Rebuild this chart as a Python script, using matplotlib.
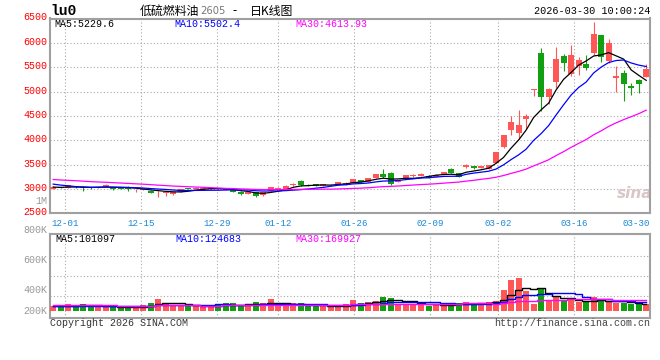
import numpy as np
import pandas as pd
import matplotlib
matplotlib.use('Agg')
import matplotlib.pyplot as plt
import matplotlib.transforms as mtrans

# daily bars of lu0, 80 sessions (11-27 .. 03-30)
opens = [3000, 3045, 3025, 3055, 3025, 3020, 3015, 3035, 3020, 3010,
         3012, 2975, 2985, 2965, 2915, 2920, 2890, 2940, 3015, 2995,
         3000, 3000, 3020, 3005, 2970, 2945, 2900, 2935, 2870, 2960,
         3005, 2995, 3075, 3170, 3090, 3095, 3070, 3078, 3095, 3090,
         3130, 3180, 3140, 3225, 3310, 3330, 3140, 3220, 3262, 3275,
         3275, 3250, 3305, 3400, 3330, 3445, 3475, 3435, 3410, 3540,
         3855, 4210, 4155, 4445, 5040, 5795, 4895, 5195, 5725, 5370,
         5530, 5575, 5790, 6155, 5630, 5285, 5385, 5115, 5235, 5300]
highs = [3055, 3050, 3080, 3060, 3055, 3030, 3050, 3095, 3040, 3020,
         3055, 2995, 3010, 2975, 2950, 2945, 2940, 2995, 3020, 3035,
         3020, 3040, 3025, 3010, 2975, 2950, 2935, 2940, 2940, 3045,
         3045, 3075, 3120, 3185, 3100, 3110, 3100, 3110, 3150, 3135,
         3205, 3190, 3225, 3305, 3410, 3345, 3175, 3285, 3300, 3330,
         3280, 3300, 3350, 3435, 3335, 3515, 3480, 3480, 3500, 3760,
         4110, 4490, 4615, 4530, 5056, 5890, 5065, 5915, 5775, 5950,
         5700, 5745, 6425, 6160, 6080, 5525, 5435, 5170, 5255, 5560]
lows = [2990, 3010, 3015, 3020, 2950, 3000, 3010, 3030, 2975, 2990,
        2955, 2940, 2975, 2910, 2830, 2865, 2885, 2935, 2990, 2990,
        2995, 2975, 2995, 2970, 2940, 2885, 2895, 2840, 2865, 2955,
        3000, 2990, 3070, 3070, 3070, 3060, 3065, 3070, 3090, 3085,
        3125, 3135, 3135, 3220, 3235, 3085, 3135, 3215, 3255, 3270,
        3225, 3245, 3300, 3320, 3245, 3440, 3415, 3430, 3405, 3535,
        3835, 4105, 4025, 4228, 4905, 4610, 4750, 5070, 5420, 5320,
        5340, 5440, 5750, 5605, 5590, 5000, 4810, 4925, 4975, 5295]
closes = [3045, 3020, 3075, 3030, 3018, 3012, 3045, 3090, 3008, 3000,
          3000, 2985, 3000, 2920, 2920, 2928, 2935, 2990, 2995, 3025,
          3015, 3008, 3000, 2975, 2945, 2895, 2930, 2845, 2935, 3040,
          3020, 3070, 3105, 3075, 3075, 3065, 3092, 3085, 3145, 3130,
          3200, 3140, 3220, 3300, 3245, 3100, 3168, 3280, 3295, 3310,
          3232, 3295, 3345, 3330, 3250, 3492, 3420, 3475, 3490, 3755,
          4100, 4370, 4310, 4500, 5050, 4895, 5055, 5665, 5590, 5755,
          5645, 5485, 6175, 5700, 5990, 5315, 5150, 5065, 5150, 5470]
volumes = [62000, 62000, 97000, 62000, 97000, 62000, 62000, 62000, 62000, 39000,
           48000, 62000, 83000, 112000, 170000, 106000, 87000, 77000, 73000, 62000,
           62000, 62000, 97000, 112000, 112000, 62000, 97000, 126000, 112000, 170000,
           62000, 62000, 112000, 112000, 62000, 62000, 62000, 62000, 62000, 97000,
           155000, 112000, 126000, 141000, 199000, 184000, 97000, 97000, 97000, 97000,
           73000, 97000, 73000, 97000, 112000, 126000, 112000, 112000, 126000, 141000,
           300000, 445000, 475000, 290000, 97000, 310000, 138000, 203000, 138000, 152000,
           123000, 123000, 195000, 165000, 123000, 115000, 115000, 92000, 92000, 92000]

# the 29 sessions before the window, backed out of where the MA lines start
prior_closes = [3290, 3310, 3280, 3265, 3300, 3270, 3250, 3260, 3235, 3245,
                3220, 3230, 3210, 3225, 3200, 3215, 3190, 3205, 3215, 3195,
                3225, 3215, 3198, 3095, 3067, 3050, 3040, 3030, 3028]
prior_volumes = [85000, 80000, 90000, 75000, 88000, 82000, 79000, 86000, 92000, 78000,
                 84000, 81000, 87000, 76000, 83000, 90000, 80000, 85000, 78000, 82000,
                 80000, 76000, 84000, 79000, 77000, 62000, 60000, 66000, 58000]

tick_labels = ['12-01', '12-15', '12-29', '01-12', '01-26', '02-09', '03-02', '03-16', '03-30']
tick_idx = [2, 12, 22, 30, 40, 50, 59, 69, 79]

price_ma_text = ['MA5:5229.6', 'MA10:5502.4', 'MA30:4613.93']
vol_ma_text = ['MA5:101097', 'MA10:124683', 'MA30:169927']
vol_labels = ['800K', '600K', '400K', '200K']

RED = '#ff5656'
GREEN = '#12a012'
MA_COLORS = ['black', '#0000ff', '#ff00ff']
GRID = '#aaaaaa'
MONO = 'Liberation Mono'
CJK = ['Noto Sans CJK SC', 'DejaVu Sans']


def ma(vals, prior, n):
    s = pd.Series(list(prior) + list(vals), dtype=float)
    return s.rolling(n).mean().values[len(prior):]


W, H = 660.0, 360.0


def box(x0, y0, x1, y1):
    return [x0 / W, 1 - y1 / H, (x1 - x0) / W, (y1 - y0) / H]


def fx(px):
    return px / W


def fy(py):
    return 1 - py / H


fig = plt.figure(figsize=(6.6, 3.6), dpi=100)
ax = fig.add_axes(box(50, 18.5, 650, 213.3))
axv = fig.add_axes(box(50, 234, 650, 318), sharex=ax)

n = len(closes)
x = np.arange(n)
up = np.array(closes) >= np.array(opens)
cols = [RED if u else GREEN for u in up]

# candles
ax.vlines(x, lows, highs, colors=cols, lw=0.8, zorder=3)
body_lo = np.minimum(opens, closes)
body_h = np.maximum(np.abs(np.array(closes) - np.array(opens)), 12)
ax.bar(x, body_h, bottom=body_lo, width=0.8, color=cols, lw=0, zorder=4)

for w, c in zip([5, 10, 30], MA_COLORS):
    ax.plot(x, ma(closes, prior_closes, w), color=c, lw=0.9, zorder=5)

# volume
axv.bar(x, volumes, width=0.8, color=cols, lw=0, zorder=3)
for w, c in zip([5, 10, 30], MA_COLORS):
    axv.plot(x, ma(volumes, prior_volumes, w), color=c, lw=1.0,
             drawstyle='steps-mid', zorder=4)

# date grid runs on a slightly wider step than the candles
tick_pos = [i * 1.0115 - 0.4 for i in tick_idx]

ax.set_xlim(-0.426, 79.49)
ax.set_ylim(2500, 6500)
ax.set_yticks(np.arange(2500, 6501, 500))
ax.set_xticks(tick_pos)
ax.set_xticklabels(tick_labels)

VOL_PER_PX = 14500
axv.set_ylim(-7.3 * VOL_PER_PX, 76.7 * VOL_PER_PX)
axv.set_yticks([(310.7 - py) * VOL_PER_PX for py in (255.7, 275.7, 295.7)])
axv.set_yticklabels([])

for a in (ax, axv):
    a.grid(True, ls=(0, (1, 2)), color=GRID, lw=0.8, zorder=0)
    a.set_axisbelow(True)
    for sp in a.spines.values():
        sp.set_color('#a0a0a0')
        sp.set_linewidth(1.5)
    a.tick_params(length=0)

ax.tick_params(axis='y', labelsize=7.2, labelcolor='#ff0000', pad=2.2)
ax.tick_params(axis='x', labelsize=6.6, labelcolor='#1a88d6', pad=3.8)
for t in ax.get_yticklabels() + ax.get_xticklabels():
    t.set_fontfamily(MONO)
off = mtrans.ScaledTranslation(0, 2 / 100, fig.dpi_scale_trans)
for t in ax.get_yticklabels():
    t.set_transform(t.get_transform() + off)
ax.get_xticklabels()[-1].set_horizontalalignment('right')
axv.tick_params(axis='x', labelbottom=False)

# gray volume-scale labels on the left
ax.text(-0.005, (213.3 - 201) / 194.8, '1M', transform=ax.transAxes, ha='right',
        va='center', color='#999999', fontsize=7.2, family=MONO)
for lab, py in zip(vol_labels, (230, 259.7, 290, 311)):
    axv.text(-0.005, (318 - py) / 84, lab, transform=axv.transAxes, ha='right',
             va='center', color='#999999', fontsize=7.2, family=MONO, clip_on=False)

# MA legends
for txt, c, px in zip(price_ma_text, MA_COLORS, (54.3, 174, 295)):
    fig.text(fx(px), fy(24), txt, color=c, fontsize=7.2, family=MONO, va='center')
for txt, c, px in zip(vol_ma_text, MA_COLORS, (55, 175, 295)):
    fig.text(fx(px), fy(238.7), txt, color=c, fontsize=7.2, family=MONO, va='center')

# header
fig.text(fx(50), fy(11), 'lu0', fontsize=10.5, family=MONO, weight='bold', va='center')
fig.text(fx(140), fy(11), '低硫燃料油', fontsize=8.6, family=CJK, va='center')
fig.text(fx(200), fy(11.5), '2605', fontsize=7.2, family='DejaVu Sans', color='#777777', va='center')
fig.text(fx(232), fy(11), '-', fontsize=8.6, family=CJK, va='center')
fig.text(fx(250), fy(11), '日K线图', fontsize=8.6, family=CJK, va='center')
fig.text(fx(650), fy(11.5), '2026-03-30 10:00:24', fontsize=7.3, family=MONO,
         ha='right', va='center')

# footer
fig.text(fx(50), fy(323.5), 'Copyright 2026 SINA.COM', fontsize=7.2, family=MONO,
         color='#333333', va='center')
fig.text(fx(650), fy(323.5), 'http://finance.sina.com.cn', fontsize=7.2, family=MONO,
         color='#444444', ha='right', va='center')

# watermark
ax.text(0.975, 0.1, 'sina', transform=ax.transAxes, ha='center', va='center',
        fontsize=11, style='italic', weight='bold', color='#d9c6c6', zorder=1)

fig.savefig('out.png', dpi=100)
